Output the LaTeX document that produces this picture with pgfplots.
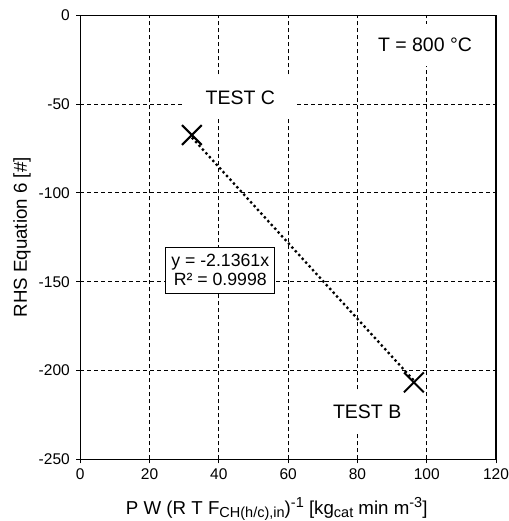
\documentclass[border=0pt]{standalone}
\usepackage{pgfplots}
\pgfplotsset{compat=1.18}
\usepackage{fontspec}
\setmainfont{Liberation Sans}
\newcommand{\sbx}[1]{\raisebox{-3.5pt}{\fontsize{14.5}{15}\selectfont #1}}
\newcommand{\spx}[1]{\raisebox{6.5pt}{\fontsize{14.5}{15}\selectfont #1}}
\begin{document}
\begin{tikzpicture}[x=1pt,y=1pt]
\useasboundingbox (0,0) rectangle (508,521);
\begin{axis}[
  at={(80.3pt,61.7pt)}, anchor=south west,
  scale only axis, width=415.7pt, height=444pt,
  xmin=0, xmax=120, ymin=-250, ymax=0,
  xtick={0,20,40,60,80,100,120},
  ytick={-250,-200,-150,-100,-50,0},
  yticklabels={-250,-200,-150,-100,-50,0},
  tick pos=left, tick align=outside,
  major tick length=4pt,
  tick style={black, line width=1pt},
  axis line style={black, line width=1.1pt},
  grid=major,
  major grid style={black, line width=0.8pt, dash pattern=on 4pt off 3pt},
  ticklabel style={font=\fontsize{15.5}{17}\selectfont},
  /pgf/number format/assume math mode=true,
  xticklabel style={yshift=-2pt},
  yticklabel style={xshift=-3pt},
  xlabel={P W (R T F\sbx{CH(h/c),in})\spx{-1} [kg\sbx{cat} min m\spx{-3}]},
  ylabel={RHS Equation 6 [\#]},
  label style={font=\fontsize{18.7}{20}\selectfont},
  xlabel style={at={(axis description cs:0.4725,-0.112)}, anchor=center},
  ylabel style={at={(axis description cs:-0.140,0.5)}, anchor=center},
  clip=false,
]
% trendline y = -2.1361x over data range
\addplot[black, line width=2.3pt, dash pattern=on 2.3pt off 2.8pt, line cap=butt] coordinates {(32.2,-68.8) (96.3,-205.7)};
% data points
\addplot[only marks, mark=x, mark size=14pt, mark options={line width=2pt, black}] coordinates {(32.2,-67.4) (96.3,-206.7)};
% labels
\node[fill=white, minimum width=110pt, minimum height=41pt, font=\fontsize{19.5}{21}\selectfont] at (axis cs:46.2,-46.3) {TEST C};
\node[fill=white, minimum width=104pt, minimum height=42pt, font=\fontsize{19.5}{21}\selectfont] at (axis cs:82.8,-223) {TEST B};
\node[fill=white, minimum width=128pt, minimum height=42pt, font=\fontsize{19.5}{21}\selectfont] at (axis cs:99.5,-16.7) {T = 800 °C};
\node[fill=white, draw=black, line width=0.9pt, minimum width=109pt, minimum height=46pt, inner sep=2pt, align=center, font=\fontsize{17.7}{19}\selectfont] at (axis cs:40.4,-143.4) {y = -2.1361x\\R² = 0.9998};
\end{axis}
\end{tikzpicture}
\end{document}
